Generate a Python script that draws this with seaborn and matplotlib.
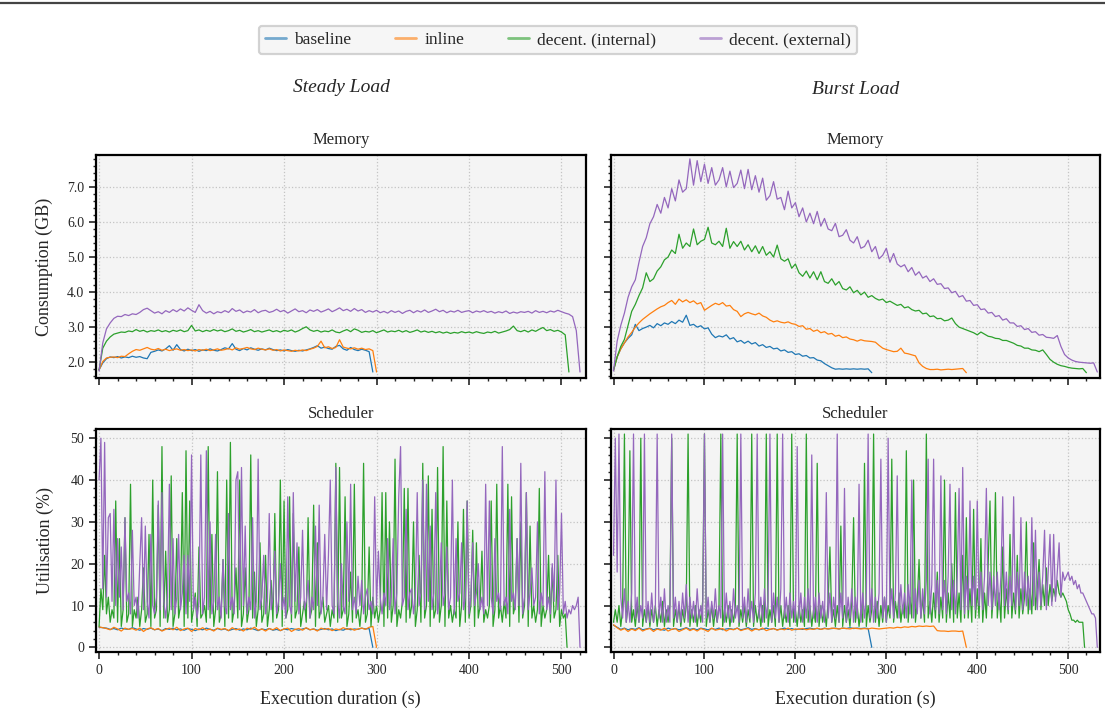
import numpy as np
import pandas as pd
import seaborn as sns
import matplotlib.pyplot as plt
from matplotlib.lines import Line2D
from matplotlib.ticker import MultipleLocator, FormatStrFormatter

# runs, in drawing order
runs = ["baseline", "inline", "decent. (internal)", "decent. (external)"]
colors = ["#1f77b4", "#ff7f0e", "#2ca02c", "#9467bd"]

# sampling steps (s) of the series below
mem_step = 4
sched_step = 2
flat_step = 4

# ---- memory, steady load (GB) ----
steady_mem_baseline = [
    1.78, 1.98, 2.10, 2.15, 2.13, 2.16, 2.12, 2.15, 2.13, 2.17,
    2.14, 2.16, 2.12, 2.10, 2.28, 2.31, 2.35, 2.32, 2.38, 2.47,
    2.34, 2.50, 2.36, 2.32, 2.37, 2.33, 2.36, 2.31, 2.35, 2.33,
    2.38, 2.34, 2.32, 2.36, 2.41, 2.38, 2.53, 2.37, 2.33, 2.39,
    2.35, 2.41, 2.37, 2.34, 2.38, 2.35, 2.40, 2.36, 2.33, 2.35,
    2.32, 2.36, 2.33, 2.31, 2.34, 2.32, 2.35, 2.38, 2.42, 2.47,
    2.40, 2.43, 2.39, 2.37, 2.45, 2.48, 2.38, 2.34, 2.42, 2.36,
    2.33, 2.37, 2.34, 2.30, 1.72]
steady_mem_inline = [
    1.78, 2.02, 2.12, 2.14, 2.15, 2.13, 2.17, 2.16, 2.24, 2.31,
    2.36, 2.34, 2.38, 2.42, 2.37, 2.35, 2.39, 2.34, 2.37, 2.33,
    2.36, 2.38, 2.34, 2.36, 2.33, 2.35, 2.32, 2.36, 2.34, 2.37,
    2.33, 2.35, 2.38, 2.34, 2.36, 2.39, 2.35, 2.41, 2.37, 2.39,
    2.42, 2.38, 2.36, 2.40, 2.37, 2.35, 2.38, 2.34, 2.36, 2.32,
    2.35, 2.33, 2.31, 2.34, 2.32, 2.35, 2.33, 2.37, 2.40, 2.45,
    2.60, 2.41, 2.44, 2.39, 2.42, 2.64, 2.43, 2.40, 2.38, 2.41,
    2.37, 2.40, 2.36, 2.38, 2.33, 1.72]
steady_mem_internal = [
    1.78, 2.40, 2.60, 2.72, 2.80, 2.83, 2.86, 2.85, 2.89, 2.87,
    2.93, 2.88, 2.91, 2.86, 2.90, 2.88, 2.92, 2.87, 2.90, 2.86,
    2.91, 2.88, 2.92, 2.87, 2.90, 3.05, 2.89, 2.92, 2.87, 2.91,
    2.88, 2.93, 2.89, 2.92, 2.87, 2.90, 2.95, 2.88, 2.91, 2.86,
    2.89, 2.93, 2.87, 2.90, 2.86, 2.89, 2.92, 2.87, 2.90, 2.86,
    2.91, 2.88, 2.92, 2.86, 2.90, 2.96, 3.01, 2.92, 2.88, 2.91,
    2.86, 2.89, 2.87, 2.92, 2.86, 2.84, 2.89, 2.93, 2.87, 2.95,
    2.91, 2.85, 2.88, 2.86, 2.90, 2.84, 2.88, 2.92, 2.86, 2.89,
    2.87, 2.91, 2.86, 2.90, 2.85, 2.88, 2.92, 2.86, 2.89, 2.85,
    2.88, 2.84, 2.87, 2.83, 2.86, 2.82, 2.85, 2.83, 2.87, 2.84,
    2.86, 2.83, 2.87, 2.84, 2.82, 2.86, 2.84, 2.88, 2.83, 2.86,
    2.89, 2.93, 3.03, 2.90, 2.87, 2.91, 2.86, 2.92, 2.88, 2.94,
    2.99, 2.90, 2.93, 2.88, 2.91, 2.86, 2.78, 1.72]
steady_mem_external = [
    1.75, 2.55, 2.95, 3.12, 3.25, 3.31, 3.30, 3.36, 3.33, 3.38,
    3.36, 3.42, 3.50, 3.54, 3.47, 3.40, 3.44, 3.38, 3.47, 3.42,
    3.50, 3.44, 3.52, 3.46, 3.55, 3.48, 3.42, 3.64, 3.47, 3.40,
    3.45, 3.38, 3.44, 3.41, 3.47, 3.42, 3.53, 3.45, 3.49, 3.41,
    3.46, 3.43, 3.50, 3.41, 3.46, 3.48, 3.42, 3.45, 3.51, 3.44,
    3.48, 3.40, 3.46, 3.52, 3.44, 3.47, 3.41, 3.49, 3.45, 3.50,
    3.43, 3.47, 3.52, 3.44, 3.49, 3.55, 3.47, 3.51, 3.45, 3.53,
    3.46, 3.50, 3.42, 3.47, 3.43, 3.48, 3.41, 3.45, 3.40, 3.47,
    3.42, 3.46, 3.39, 3.45, 3.48, 3.41, 3.47, 3.43, 3.49, 3.42,
    3.46, 3.51, 3.44, 3.48, 3.41, 3.46, 3.43, 3.48, 3.42, 3.45,
    3.47, 3.41, 3.46, 3.43, 3.47, 3.42, 3.45, 3.40, 3.44, 3.41,
    3.46, 3.39, 3.43, 3.40, 3.44, 3.42, 3.45, 3.40, 3.47, 3.42,
    3.45, 3.41, 3.46, 3.43, 3.48, 3.44, 3.40, 3.37, 3.30, 2.90,
    1.72]

# ---- memory, burst load (GB) ----
burst_mem_baseline = [
    1.77, 2.15, 2.38, 2.55, 2.68, 2.78, 3.08, 2.90, 2.96, 3.00,
    3.05, 2.98, 3.10, 3.04, 3.12, 3.08, 3.16, 3.10, 3.20, 3.14,
    3.34, 3.05, 3.08, 3.00, 3.04, 2.95, 2.98, 2.80, 2.70, 2.75,
    2.72, 2.78, 2.66, 2.70, 2.58, 2.62, 2.54, 2.60, 2.52, 2.56,
    2.46, 2.50, 2.42, 2.45, 2.38, 2.40, 2.32, 2.35, 2.28, 2.30,
    2.22, 2.24, 2.17, 2.19, 2.12, 2.13, 2.06, 2.04, 1.96, 1.90,
    1.84, 1.80, 1.81, 1.80, 1.81, 1.80, 1.81, 1.80, 1.81, 1.80,
    1.81, 1.70]
burst_mem_inline = [
    1.77, 2.15, 2.38, 2.55, 2.72, 2.85, 3.00, 3.12, 3.22, 3.30,
    3.38, 3.45, 3.52, 3.58, 3.62, 3.70, 3.76, 3.65, 3.80, 3.72,
    3.78, 3.70, 3.75, 3.66, 3.70, 3.48, 3.55, 3.62, 3.68, 3.64,
    3.70, 3.60, 3.62, 3.50, 3.45, 3.30, 3.38, 3.42, 3.38, 3.35,
    3.40, 3.32, 3.28, 3.20, 3.15, 3.18, 3.14, 3.12, 3.15, 3.10,
    3.08, 3.02, 3.04, 2.94, 2.96, 2.88, 2.92, 2.84, 2.87, 2.80,
    2.82, 2.74, 2.77, 2.70, 2.72, 2.66, 2.64, 2.60, 2.64, 2.61,
    2.60, 2.59, 2.57, 2.48, 2.40, 2.36, 2.33, 2.30, 2.31, 2.40,
    2.26, 2.24, 2.21, 2.18, 1.98, 1.88, 1.82, 1.79, 1.79, 1.80,
    1.78, 1.79, 1.80, 1.79, 1.80, 1.81, 1.82, 1.70]
burst_mem_internal = [
    1.77, 2.15, 2.45, 2.65, 3.05, 3.45, 3.65, 3.90, 4.12, 4.55,
    4.30, 4.38, 4.60, 4.72, 4.92, 5.00, 5.20, 5.10, 5.65, 5.25,
    5.40, 5.30, 5.80, 5.35, 5.45, 5.50, 5.85, 5.40, 5.35, 5.45,
    5.30, 5.82, 5.25, 5.44, 5.30, 5.45, 5.20, 5.35, 5.15, 5.32,
    5.10, 5.30, 5.05, 5.15, 5.00, 5.34, 4.95, 4.88, 4.95, 4.68,
    4.80, 4.55, 4.45, 4.60, 4.40, 4.58, 4.35, 4.58, 4.30, 4.25,
    4.38, 4.20, 4.30, 4.10, 4.06, 4.15, 3.98, 4.05, 3.92, 4.00,
    3.85, 3.90, 3.82, 3.77, 3.80, 3.70, 3.74, 3.68, 3.62, 3.65,
    3.55, 3.58, 3.50, 3.46, 3.48, 3.38, 3.40, 3.30, 3.32, 3.24,
    3.25, 3.18, 3.20, 3.26, 3.10, 3.00, 2.96, 2.92, 2.88, 2.84,
    2.78, 2.86, 2.80, 2.74, 2.72, 2.68, 2.67, 2.62, 2.62, 2.58,
    2.54, 2.48, 2.46, 2.40, 2.40, 2.35, 2.34, 2.30, 2.35, 2.22,
    2.08, 2.00, 1.94, 1.90, 1.88, 1.85, 1.83, 1.82, 1.81, 1.82,
    1.70]
burst_mem_external = [
    1.75, 2.60, 3.05, 3.40, 3.85, 4.15, 4.35, 4.85, 5.30, 5.55,
    5.95, 6.15, 6.50, 6.25, 6.70, 6.40, 6.95, 6.60, 7.20, 6.85,
    6.95, 7.80, 7.05, 7.75, 7.15, 7.65, 7.10, 7.55, 7.05, 7.20,
    7.55, 7.00, 7.45, 6.98, 7.10, 7.48, 6.95, 7.50, 6.92, 7.32,
    6.85, 7.25, 6.62, 6.75, 7.15, 6.65, 6.70, 6.35, 6.88, 6.40,
    6.55, 6.15, 6.40, 6.00, 6.25, 5.95, 6.30, 5.88, 6.10, 5.80,
    5.75, 5.96, 5.58, 5.62, 5.78, 5.48, 5.40, 5.58, 5.25, 5.30,
    5.48, 5.15, 5.30, 4.95, 5.05, 5.25, 4.85, 5.10, 4.80, 4.72,
    4.78, 4.58, 4.70, 4.48, 4.58, 4.40, 4.46, 4.30, 4.38, 4.22,
    4.24, 4.10, 4.12, 3.98, 4.02, 3.86, 3.90, 3.74, 3.76, 3.62,
    3.64, 3.50, 3.52, 3.40, 3.42, 3.30, 3.33, 3.20, 3.24, 3.12,
    3.12, 3.02, 3.04, 2.93, 2.96, 2.85, 2.87, 2.77, 2.79, 2.71,
    2.70, 2.68, 2.76, 2.45, 2.22, 2.12, 2.06, 2.02, 2.00, 1.99,
    1.98, 1.97, 1.98, 1.72]

# ---- scheduler, steady load (%) ----
steady_sched_baseline = [
    4.8, 4.7, 4.6, 4.3, 4.5, 4.2, 4.6, 4.4, 4.3, 4.7,
    4.4, 4.1, 4.5, 4.3, 4.6, 4.2, 4.4, 4.0, 4.5, 4.3,
    4.6, 4.2, 4.4, 4.1, 4.5, 4.3, 4.0, 4.4, 4.2, 4.6,
    4.3, 4.1, 4.5, 4.2, 4.4, 4.0, 4.3, 4.5, 4.1, 4.4,
    4.2, 4.6, 4.3, 4.0, 4.4, 4.2, 4.5, 4.1, 4.3, 4.0,
    4.4, 4.2, 4.5, 4.3, 4.1, 4.4, 4.6, 4.2, 4.4, 4.1,
    4.3, 4.5, 4.2, 4.4, 4.0, 4.3, 4.1, 4.5, 4.2, 4.4,
    4.3, 4.6, 4.4, 4.5, 0.0]
steady_sched_inline = [
    4.9, 4.7, 4.5, 4.2, 4.8, 4.4, 3.9, 4.6, 4.3, 4.5,
    4.1, 4.6, 3.8, 4.4, 4.7, 4.2, 4.5, 3.9, 4.3, 4.6,
    4.2, 4.8, 4.0, 4.4, 4.6, 3.8, 4.5, 4.2, 4.7, 4.1,
    4.4, 3.9, 4.6, 4.3, 4.5, 4.0, 4.7, 4.2, 4.4, 3.9,
    4.6, 4.3, 4.8, 4.1, 4.4, 3.9, 4.5, 4.2, 4.7, 4.0,
    4.4, 4.6, 3.8, 4.3, 4.5, 4.1, 4.7, 4.2, 4.4, 3.9,
    4.6, 4.3, 4.5, 4.0, 4.4, 4.2, 4.7, 4.3, 4.5, 4.1,
    4.4, 4.6, 4.3, 4.8, 5.0, 0.0]
steady_sched_internal = [
    5, 14, 9, 22, 8, 12, 6, 9, 7, 35,
    6, 26, 5, 9, 31, 6, 8, 39, 5, 9,
    7, 12, 5, 9, 19, 6, 8, 27, 5, 40,
    7, 9, 34, 5, 48, 7, 23, 6, 9, 41,
    5, 8, 26, 7, 10, 37, 5, 47, 7, 35,
    6, 9, 13, 5, 24, 7, 8, 10, 6, 48,
    7, 27, 5, 9, 42, 6, 8, 21, 5, 40,
    7, 49, 6, 9, 19, 7, 40, 5, 8, 19,
    6, 9, 46, 7, 18, 5, 9, 25, 6, 8,
    22, 5, 9, 16, 6, 32, 7, 9, 40, 5,
    35, 7, 9, 36, 6, 32, 7, 9, 24, 5,
    8, 11, 6, 31, 7, 9, 34, 5, 25, 7,
    9, 12, 6, 8, 10, 5, 9, 7, 44, 6,
    43, 7, 9, 36, 5, 8, 18, 6, 39, 7,
    9, 5, 10, 44, 6, 8, 24, 5, 12, 7,
    10, 6, 9, 37, 5, 37, 7, 30, 6, 10,
    45, 5, 9, 7, 11, 38, 6, 38, 7, 10,
    30, 5, 9, 22, 6, 44, 7, 10, 41, 5,
    33, 7, 9, 43, 6, 10, 48, 5, 35, 7,
    10, 6, 9, 7, 30, 5, 10, 33, 6, 35,
    7, 10, 28, 5, 25, 7, 10, 23, 6, 9,
    7, 10, 35, 5, 9, 39, 7, 10, 6, 11,
    7, 39, 5, 36, 8, 10, 26, 6, 30, 7,
    10, 37, 5, 29, 7, 10, 6, 9, 38, 5,
    10, 7, 9, 22, 6, 19, 7, 9, 22, 5,
    9, 7, 8, 0]
steady_sched_external = [
    40, 50, 14, 49, 12, 31, 32, 11, 33, 10,
    26, 12, 24, 9, 31, 11, 13, 8, 28, 10,
    12, 7, 20, 31, 9, 29, 11, 7, 27, 10,
    8, 12, 35, 9, 37, 11, 7, 12, 39, 9,
    26, 8, 12, 27, 9, 13, 22, 8, 22, 11,
    46, 9, 12, 7, 11, 46, 8, 12, 47, 9,
    30, 8, 11, 27, 9, 12, 7, 21, 10, 8,
    32, 9, 12, 8, 40, 42, 9, 43, 10, 29,
    8, 12, 9, 31, 7, 11, 45, 9, 12, 22,
    8, 11, 32, 9, 12, 23, 8, 11, 20, 9,
    12, 7, 36, 10, 8, 37, 11, 25, 8, 12,
    28, 9, 11, 16, 7, 12, 9, 29, 10, 34,
    8, 12, 27, 9, 22, 40, 10, 8, 43, 11,
    7, 20, 10, 8, 30, 11, 39, 9, 12, 8,
    17, 10, 16, 8, 12, 14, 9, 11, 8, 36,
    10, 23, 12, 8, 13, 10, 26, 9, 12, 26,
    8, 13, 36, 48, 10, 12, 33, 9, 13, 14,
    8, 12, 37, 10, 13, 40, 9, 39, 11, 29,
    9, 13, 37, 8, 12, 25, 10, 13, 24, 9,
    12, 40, 8, 26, 11, 13, 25, 9, 12, 35,
    8, 12, 25, 10, 13, 20, 9, 12, 8, 39,
    10, 35, 12, 8, 26, 11, 13, 9, 48, 10,
    12, 8, 33, 11, 13, 9, 26, 10, 44, 8,
    12, 37, 9, 13, 19, 10, 12, 30, 8, 13,
    10, 42, 9, 12, 8, 20, 11, 40, 9, 13,
    32, 8, 11, 7, 9, 8, 10, 9, 10, 12,
    0]

# ---- scheduler, burst load (%) ----
burst_sched_baseline = [
    5.3, 4.8, 4.3, 4.6, 4.2, 4.5, 4.3, 4.7, 4.2, 4.4,
    4.6, 4.2, 4.5, 4.3, 4.1, 4.6, 4.3, 4.5, 4.2, 4.4,
    4.7, 4.3, 4.5, 4.2, 4.6, 4.4, 4.2, 4.5, 4.3, 4.6,
    4.2, 4.4, 4.5, 4.3, 4.6, 4.2, 4.4, 4.7, 4.3, 4.5,
    4.2, 4.4, 4.6, 4.3, 4.5, 4.2, 4.4, 4.6, 4.3, 4.5,
    4.2, 4.4, 4.3, 4.5, 4.6, 4.4, 4.5, 4.3, 4.6, 4.4,
    4.5, 4.6, 4.4, 4.6, 4.5, 4.7, 4.5, 4.6, 4.5, 4.6,
    4.5, 0.0]
burst_sched_inline = [
    5.4, 4.7, 4.1, 4.5, 3.8, 4.4, 4.0, 4.6, 3.9, 4.3,
    4.5, 3.8, 4.4, 4.1, 4.6, 3.9, 4.3, 4.5, 3.8, 4.2,
    4.6, 4.0, 4.4, 3.9, 4.5, 4.2, 3.8, 4.6, 4.1, 4.3,
    4.5, 3.9, 4.4, 4.2, 4.6, 4.0, 4.3, 4.5, 3.9, 4.4,
    4.2, 4.6, 4.0, 4.3, 4.5, 4.1, 4.4, 4.2, 4.6, 4.1,
    4.4, 4.3, 4.5, 4.2, 4.4, 4.3, 4.6, 4.3, 4.5, 4.4,
    4.6, 4.5, 4.4, 4.6, 4.5, 4.4, 4.6, 4.5, 4.4, 4.5,
    4.4, 4.6, 4.5, 4.4, 4.5, 4.6, 4.7, 4.6, 4.8, 4.7,
    4.9, 4.8, 5.0, 4.9, 5.1, 5.0, 5.1, 5.0, 5.1, 4.0,
    3.9, 3.9, 3.8, 3.9, 3.9, 3.8, 3.9, 0.0]
burst_sched_internal = [
    6, 9, 6, 10, 5, 9, 51, 6, 10, 47,
    6, 9, 5, 10, 6, 50, 5, 9, 6, 10,
    5, 9, 6, 10, 5, 9, 6, 11, 5, 9,
    6, 10, 50, 5, 9, 6, 10, 5, 9, 6,
    10, 51, 5, 9, 6, 10, 5, 9, 6, 11,
    51, 5, 9, 6, 10, 5, 9, 6, 10, 51,
    5, 9, 6, 10, 5, 9, 6, 10, 51, 5,
    9, 6, 10, 5, 9, 6, 51, 5, 10, 6,
    9, 5, 10, 6, 51, 5, 9, 6, 10, 5,
    51, 6, 10, 5, 9, 6, 10, 5, 51, 6,
    9, 5, 10, 6, 9, 5, 51, 6, 10, 5,
    9, 6, 44, 5, 10, 6, 9, 5, 11, 24,
    6, 9, 5, 10, 6, 29, 5, 10, 6, 9,
    5, 11, 31, 6, 10, 5, 9, 6, 44, 5,
    10, 6, 9, 51, 6, 11, 5, 10, 6, 12,
    6, 10, 7, 45, 6, 11, 7, 13, 6, 10,
    7, 47, 6, 12, 7, 40, 6, 11, 21, 7,
    12, 6, 51, 7, 11, 6, 13, 7, 18, 6,
    12, 7, 40, 6, 13, 7, 20, 6, 37, 7,
    13, 6, 22, 7, 31, 7, 14, 6, 33, 7,
    14, 7, 26, 6, 13, 7, 20, 35, 7, 14,
    37, 7, 13, 6, 24, 7, 14, 8, 27, 7,
    13, 8, 22, 7, 14, 8, 12, 30, 8, 14,
    8, 25, 9, 14, 21, 9, 15, 10, 19, 10,
    15, 11, 14, 12, 16, 13, 12, 13, 12, 11,
    9, 8, 6.5, 6.5, 6, 6.5, 6, 6, 6, 0]
burst_sched_external = [
    22, 50, 18, 51, 12, 7, 14, 6, 11, 6,
    13, 51, 7, 12, 6, 10, 7, 51, 6, 11,
    6, 13, 6, 9, 51, 7, 12, 6, 14, 6,
    10, 6, 51, 7, 12, 6, 11, 6, 13, 7,
    15, 6, 12, 7, 11, 6, 14, 7, 10, 6,
    51, 7, 12, 6, 11, 7, 14, 6, 10, 7,
    51, 6, 13, 7, 11, 6, 14, 7, 10, 6,
    51, 7, 12, 6, 14, 7, 11, 6, 13, 51,
    7, 12, 6, 14, 7, 11, 51, 6, 13, 7,
    12, 6, 14, 51, 7, 12, 6, 13, 7, 11,
    6, 48, 7, 13, 6, 12, 7, 14, 6, 46,
    7, 12, 6, 13, 7, 11, 6, 37, 7, 13,
    6, 12, 7, 51, 6, 13, 7, 38, 6, 12,
    7, 14, 6, 12, 7, 39, 6, 13, 7, 12,
    51, 7, 14, 6, 12, 7, 13, 45, 7, 12,
    6, 50, 8, 14, 7, 13, 41, 7, 15, 8,
    13, 7, 15, 8, 40, 7, 14, 8, 16, 7,
    14, 8, 16, 45, 8, 15, 45, 9, 16, 8,
    41, 9, 16, 8, 17, 39, 9, 16, 8, 17,
    38, 9, 43, 8, 17, 9, 35, 10, 17, 9,
    35, 10, 18, 9, 17, 38, 10, 18, 9, 17,
    10, 18, 9, 17, 36, 10, 18, 9, 17, 10,
    36, 9, 18, 10, 31, 9, 18, 10, 17, 9,
    31, 10, 28, 9, 18, 10, 17, 28, 9, 18,
    27, 10, 27, 11, 18, 25, 12, 18, 16, 17,
    18, 16, 17, 15, 16, 14, 15, 13, 13, 12,
    11, 10, 9, 8, 8, 7, 0]

steady_mem = [(mem_step, steady_mem_baseline), (mem_step, steady_mem_inline),
              (mem_step, steady_mem_internal), (mem_step, steady_mem_external)]
burst_mem = [(mem_step, burst_mem_baseline), (mem_step, burst_mem_inline),
             (mem_step, burst_mem_internal), (mem_step, burst_mem_external)]
steady_sched = [(flat_step, steady_sched_baseline), (flat_step, steady_sched_inline),
                (sched_step, steady_sched_internal), (sched_step, steady_sched_external)]
burst_sched = [(flat_step, burst_sched_baseline), (flat_step, burst_sched_inline),
               (sched_step, burst_sched_internal), (sched_step, burst_sched_external)]


def to_frame(series):
    parts = []
    for name, (step, vals) in zip(runs, series):
        parts.append(pd.DataFrame({"t": np.arange(len(vals)) * step,
                                   "v": vals, "run": name}))
    return pd.concat(parts, ignore_index=True)


sns.set_theme(style="ticks", rc={
    "axes.facecolor": "#f4f4f4",
    "axes.edgecolor": "black",
    "axes.linewidth": 1.6,
    "xtick.major.size": 5, "ytick.major.size": 5,
    "xtick.minor.size": 2.5, "ytick.minor.size": 2.5,
    "xtick.major.width": 1.2, "ytick.major.width": 1.2,
    "xtick.minor.width": 1.0, "ytick.minor.width": 1.0,
})
plt.rcParams["font.family"] = ["Liberation Serif", "DejaVu Serif"]

fig, axes = plt.subplots(2, 2, figsize=(11.05, 7.24), dpi=100,
                         sharex="col", sharey="row")
fig.subplots_adjust(left=0.0869, right=0.9955, top=0.7859, bottom=0.0995,
                    wspace=0.051, hspace=0.229)

panels = [(axes[0, 0], steady_mem), (axes[0, 1], burst_mem),
          (axes[1, 0], steady_sched), (axes[1, 1], burst_sched)]
for i, (ax, series) in enumerate(panels):
    sns.lineplot(data=to_frame(series), x="t", y="v", hue="run",
                 hue_order=runs, palette=colors, estimator=None,
                 linewidth=0.9, ax=ax, legend=(i == 0))
    ax.set_xlabel("")
    ax.set_ylabel("")
    ax.grid(True, which="major", linestyle=":", color="#c4c4c4", linewidth=0.9)
    ax.xaxis.set_major_locator(MultipleLocator(100))
    ax.xaxis.set_minor_locator(MultipleLocator(20))
    ax.tick_params(labelsize=10)

handles, labels = axes[0, 0].get_legend_handles_labels()
axes[0, 0].get_legend().remove()

axes[0, 0].set_xlim(-3.3, 526)
axes[0, 1].set_xlim(-3.3, 535)
axes[0, 0].set_ylim(1.55, 7.91)
axes[0, 0].yaxis.set_major_locator(MultipleLocator(1.0))
axes[0, 0].yaxis.set_minor_locator(MultipleLocator(0.2))
axes[0, 0].yaxis.set_major_formatter(FormatStrFormatter("%.1f"))
axes[1, 0].set_ylim(-1.1, 52.2)
axes[1, 0].yaxis.set_major_locator(MultipleLocator(10))
axes[1, 0].yaxis.set_minor_locator(MultipleLocator(2))

for ax in axes[0]:
    ax.set_title("Memory", fontsize=12, pad=8)
for ax in axes[1]:
    ax.set_title("Scheduler", fontsize=12, pad=8)
    ax.set_xlabel("Execution duration (s)", fontsize=13, labelpad=10)
axes[0, 0].set_ylabel("Consumption (GB)", fontsize=13, labelpad=10)
axes[1, 0].set_ylabel("Utilisation (%)", fontsize=13, labelpad=12)

fig.text(341 / 1105, 1 - 87 / 724, "Steady Load", ha="center", va="center",
         fontsize=14, style="italic")
fig.text(856 / 1105, 1 - 89 / 724, "Burst Load", ha="center", va="center",
         fontsize=14, style="italic")

leg = fig.legend(handles, labels, loc="center", ncol=4,
                 bbox_to_anchor=(558 / 1105, 1 - 40 / 724), fontsize=12.5,
                 frameon=True, fancybox=True, edgecolor="#c8c8c8",
                 handlelength=1.2, handletextpad=0.5, columnspacing=2.5,
                 borderpad=0.35)
leg.get_frame().set_linewidth(1.6)
for h in leg.legend_handles:
    h.set_alpha(0.6)
    h.set_linewidth(2)

fig.add_artist(Line2D([0, 1], [1 - 3 / 724, 1 - 3 / 724],
                      transform=fig.transFigure, color="#444444", linewidth=1.6))

fig.savefig("out.png", dpi=100)
